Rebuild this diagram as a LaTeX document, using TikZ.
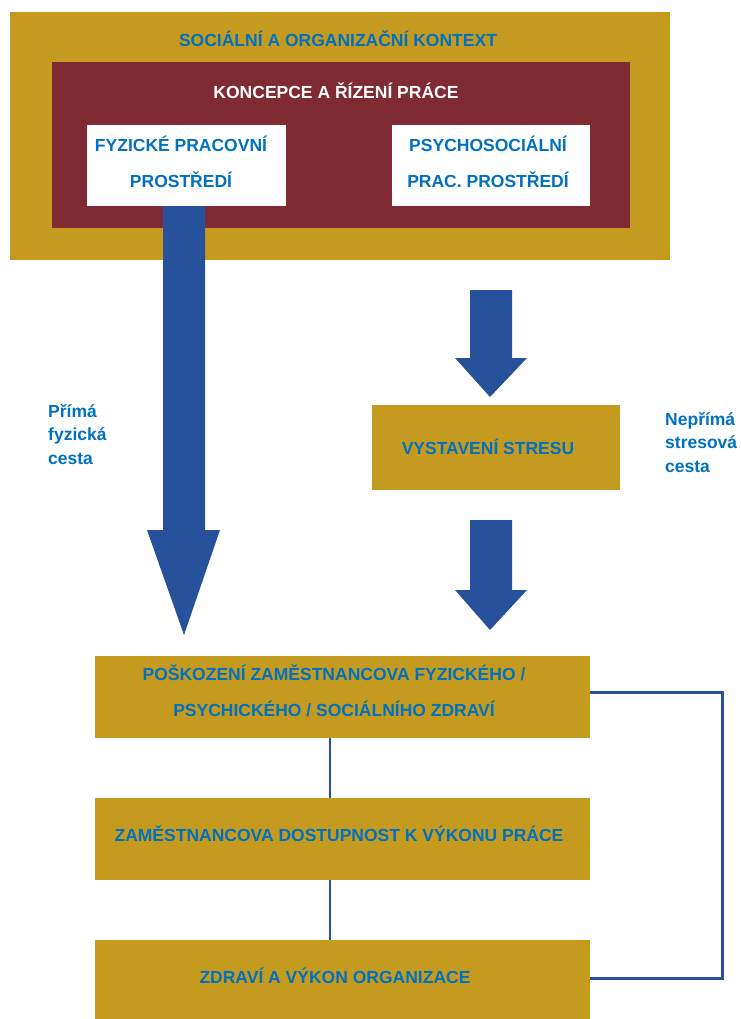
\documentclass[tikz,border=0pt]{standalone}
\usepackage{fontspec}
\setmainfont{Liberation Sans}
\definecolor{gold}{RGB}{197,155,31}
\definecolor{maroon}{RGB}{128,42,51}
\definecolor{txtblue}{RGB}{0,112,192}
\definecolor{arrblue}{RGB}{39,81,155}
\begin{document}
\begin{tikzpicture}[x=1pt,y=-1pt,
  txt/.style={font=\fontsize{17.5}{36}\selectfont\bfseries, text=txtblue, align=center, inner sep=0pt},
  lbl/.style={font=\fontsize{17.5}{23.5}\selectfont\bfseries, text=txtblue, align=left, inner sep=0pt, anchor=north west},
  goldbox/.style={fill=gold, draw=none, inner sep=0pt},
  whitebox/.style={fill=white, draw=none, inner sep=0pt},
  fat/.style={fill=arrblue, draw=none},
  conn/.style={draw=arrblue, line width=3pt}]
\useasboundingbox (0,0) rectangle (740,1019);
% outer context
\node[goldbox, minimum width=660pt, minimum height=248pt] (ctx) at (340,136) {};
\node[txt] (ctxt) at (338,39) {SOCIÁLNÍ A ORGANIZAČNÍ KONTEXT};
\node[fill=maroon, draw=none, inner sep=0pt, minimum width=578pt, minimum height=166pt] (koncepce) at (341,145) {};
\node[txt, text=white] (kt) at (336,91) {KONCEPCE A ŘÍZENÍ PRÁCE};
\node[whitebox, minimum width=199pt, minimum height=81pt] (fyz) at (186.5,165.5) {};
\node[txt] at (181,161.5) {FYZICKÉ PRACOVNÍ\\PROSTŘEDÍ};
\node[whitebox, minimum width=198pt, minimum height=81pt] (psy) at (491,165.5) {};
\node[txt] at (488,161.5) {PSYCHOSOCIÁLNÍ\\PRAC. PROSTŘEDÍ};
% stress box
\node[goldbox, minimum width=248pt, minimum height=85pt] (stres) at (496,447.5) {};
\node[txt] at (488,447) {VYSTAVENÍ STRESU};
% bottom boxes
\node[goldbox, minimum width=495pt, minimum height=82pt] (pos) at (342.5,697) {};
\node[txt] at (334,690.5) {POŠKOZENÍ ZAMĚSTNANCOVA FYZICKÉHO /\\PSYCHICKÉHO / SOCIÁLNÍHO ZDRAVÍ};
\node[goldbox, minimum width=495pt, minimum height=82pt] (zam) at (342.5,839) {};
\node[txt] at (339,834) {ZAMĚSTNANCOVA DOSTUPNOST K VÝKONU PRÁCE};
\node[goldbox, minimum width=495pt, minimum height=79pt] (zdr) at (342.5,979.5) {};
\node[txt] at (335,976) {ZDRAVÍ A VÝKON ORGANIZACE};
% side labels
\node[lbl] (prima) at (48,404) {Přímá\\fyzická\\cesta};
\node[lbl] (neprima) at (665,412) {Nepřímá\\stresová\\cesta};
% fat arrows
\fill[fat] (fyz.south -| 163,0) -- (205,206) -- (205,530) -- (220,530) -- (184,635) -- (147,530) -- (163,530) -- cycle;
\fill[fat] (470,290) -- (512,290) -- (512,358) -- (527,358) -- (490,397) -- (455,358) -- (470,358) -- cycle;
\fill[fat] (470,520) -- (512,520) -- (512,590) -- (527,590) -- (490,630) -- (455,590) -- (470,590) -- cycle;
% connectors
\coordinate (lx) at (330,0);
\draw[conn, line width=2.5pt] (pos.south -| lx) -- (zam.north -| lx);
\draw[conn, line width=2.5pt] (zam.south -| lx) -- (zdr.north -| lx);
\coordinate (rx) at (722,0);
\draw[conn] (pos.east |- 0,692) -- (rx |- 0,692) -- (rx |- 0,978) -- (zdr.east |- 0,978);
\end{tikzpicture}
\end{document}
